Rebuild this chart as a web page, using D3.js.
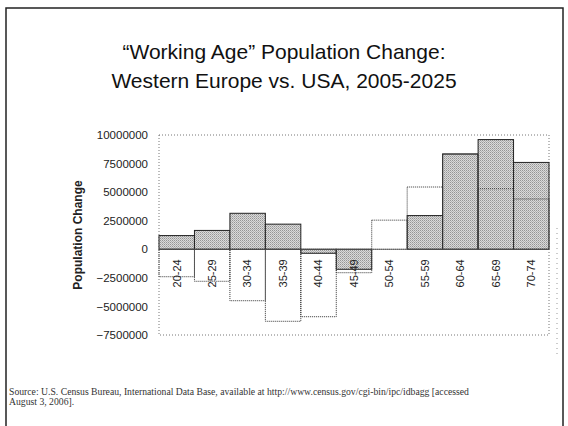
<!DOCTYPE html>
<html>
<head>
<meta charset="utf-8">
<script src="https://cdn.jsdelivr.net/npm/d3@7"></script>
<style>
  html, body { margin: 0; padding: 0; background: #fff; }
  svg { display: block; }
</style>
</head>
<body>
<svg id="chart" width="568" height="426"></svg>
<script>
// Age groups of the working-age population
const ageGroups = ["20-24", "25-29", "30-34", "35-39", "40-44", "45-49",
                   "50-54", "55-59", "60-64", "65-69", "70-74"];
// Change in population 2005-2025, USA (shaded bars)
const usaChange = [1200000, 1650000, 3150000, 2200000, -350000, -1750000,
                   0, 2950000, 8350000, 9600000, 7600000];
// Change in population 2005-2025, Western Europe (outlined bars)
const westEuropeChange = [-2400000, -2800000, -4500000, -6300000, -5900000, -2050000,
                          2550000, 5450000, 8300000, 5300000, 4400000];
// Value-axis ticks
const yTicks = [10000000, 7500000, 5000000, 2500000, 0, -2500000, -5000000, -7500000];

const titleLines = ["\u201CWorking Age\u201D Population Change:", "Western Europe vs. USA, 2005-2025"];
const sourceLines = [
  "Source:  U.S. Census Bureau, International Data Base, available at http://www.census.gov/cgi-bin/ipc/idbagg [accessed",
  "August 3, 2006]."
];

const svg = d3.select("#chart");

// stippled fill for the shaded series
const defs = svg.append("defs");
const pat = defs.append("pattern")
  .attr("id", "stipple").attr("width", 2).attr("height", 2)
  .attr("patternUnits", "userSpaceOnUse");
pat.append("rect").attr("width", 2).attr("height", 2).attr("fill", "#dadada");
pat.append("rect").attr("width", 1).attr("height", 1).attr("fill", "#959595");
pat.append("rect").attr("x", 1).attr("y", 1).attr("width", 1).attr("height", 1).attr("fill", "#b2b2b2");

// outer frame
svg.append("rect")
  .attr("x", 6).attr("y", 8).attr("width", 557).attr("height", 430)
  .attr("fill", "none").attr("stroke", "#222").attr("stroke-width", 1.5);

// title
svg.append("g").selectAll("text").data(titleLines).join("text")
  .attr("x", 284).attr("y", (d, i) => 59 + i * 29)
  .attr("text-anchor", "middle")
  .attr("font-family", "Liberation Sans, Arial, sans-serif")
  .attr("font-size", 21).attr("fill", "#111")
  .text(d => d);

const margin = { left: 159, right: 549, top: 135, bottom: 335 };

const x = d3.scaleBand().domain(ageGroups)
  .range([margin.left, margin.right]).paddingInner(0).paddingOuter(0);
const y = d3.scaleLinear().domain([-7500000, 10000000])
  .range([margin.bottom, margin.top]);

// plot-area border, dotted
svg.append("rect")
  .attr("x", margin.left).attr("y", margin.top)
  .attr("width", margin.right - margin.left).attr("height", margin.bottom - margin.top)
  .attr("fill", "none").attr("stroke", "#777").attr("stroke-width", 1)
  .attr("stroke-dasharray", "1,2");

// faint chart-area edge on the right
svg.append("line")
  .attr("x1", 557).attr("x2", 557).attr("y1", 228).attr("y2", 356)
  .attr("stroke", "#999").attr("stroke-width", 1).attr("stroke-dasharray", "1,4");

// y axis labels
const yAxis = d3.axisLeft(y).tickValues(yTicks).tickSize(0).tickPadding(11)
  .tickFormat(d3.format("d"));
const gy = svg.append("g").attr("transform", `translate(${margin.left},0)`).call(yAxis);
gy.select(".domain").remove();
gy.selectAll("text")
  .attr("font-family", "Liberation Sans, Arial, sans-serif")
  .attr("font-size", 11.5).attr("fill", "#222");

// y axis title
svg.append("text")
  .attr("transform", `translate(82,${(margin.top + margin.bottom) / 2}) rotate(-90)`)
  .attr("text-anchor", "middle")
  .attr("font-family", "Liberation Sans, Arial, sans-serif")
  .attr("font-size", 12).attr("font-weight", "bold").attr("fill", "#222")
  .text("Population Change");

// USA bars (shaded)
svg.append("g").selectAll("rect").data(ageGroups).join("rect")
  .attr("x", d => x(d))
  .attr("y", (d, i) => y(Math.max(0, usaChange[i])))
  .attr("width", x.bandwidth())
  .attr("height", (d, i) => Math.abs(y(usaChange[i]) - y(0)))
  .attr("fill", "url(#stipple)")
  .attr("stroke", "#222").attr("stroke-width", 1);

// Western Europe bars (outline only, drawn over the shaded bars)
svg.append("g").selectAll("rect").data(ageGroups).join("rect")
  .attr("x", d => x(d))
  .attr("y", (d, i) => y(Math.max(0, westEuropeChange[i])))
  .attr("width", x.bandwidth())
  .attr("height", (d, i) => Math.abs(y(westEuropeChange[i]) - y(0)))
  .attr("fill", "none")
  .attr("stroke", "#333").attr("stroke-width", 1)
  .attr("stroke-dasharray", "1,1");

// zero line
svg.append("line")
  .attr("x1", margin.left).attr("x2", margin.right)
  .attr("y1", y(0)).attr("y2", y(0))
  .attr("stroke", "#555").attr("stroke-width", 0.8);

// category labels, rotated, just under the zero line
const xAxis = d3.axisBottom(x).tickSize(0).tickPadding(0);
const gx = svg.append("g").attr("transform", `translate(0,${y(0)})`).call(xAxis);
gx.select(".domain").remove();
gx.selectAll("text")
  .attr("font-family", "Liberation Sans, Arial, sans-serif")
  .attr("font-size", 11).attr("fill", "#222")
  .attr("text-anchor", "end")
  .attr("dy", "0.35em")
  .attr("transform", "translate(0,10) rotate(-90)");

// source note
svg.append("g").selectAll("text").data(sourceLines).join("text")
  .attr("x", 9).attr("y", (d, i) => 395 + i * 10)
  .attr("font-family", "Liberation Serif, Times New Roman, serif")
  .attr("font-size", 9.7).attr("fill", "#333")
  .text(d => d);
</script>
</body>
</html>
